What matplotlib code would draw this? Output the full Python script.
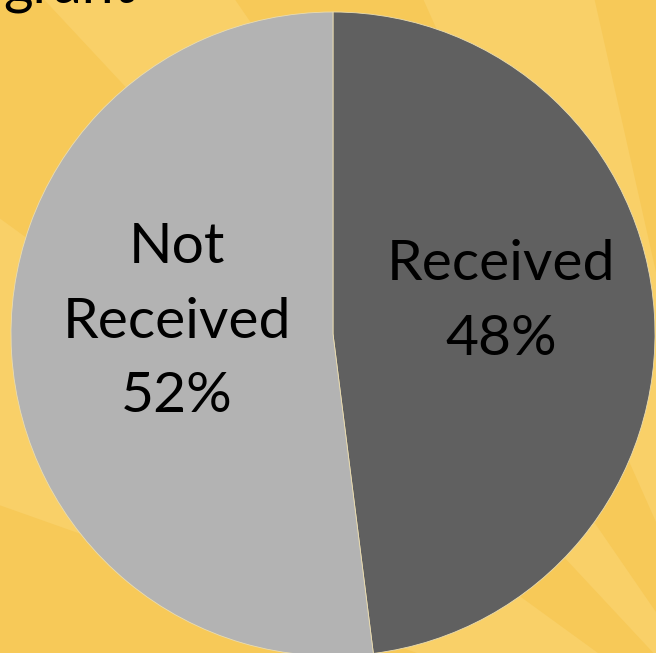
import matplotlib
matplotlib.use('Agg')
import matplotlib.pyplot as plt
from matplotlib.patches import Wedge

# 数据
labels = ['Received', 'Not\nReceived']
values = [48, 52]
colors = ['#606060', '#b3b3b3']

W, H = 656, 653

fig = plt.figure(figsize=(W / 100, H / 100), dpi=100)
ax = fig.add_axes([0, 0, 1, 1])
fig.patch.set_facecolor('#f7c958')
ax.set_facecolor('#f7c958')

# 背景的放射光线 (中心在右下角外面)
ray_center = (770, H - 778)
light_rays = [(144.0, 160.5), (124.5, 133.0), (102.7, 114.0)]
for t1, t2 in light_rays:
    ax.add_patch(Wedge(ray_center, 3000, t1, t2, color='#f9d068', lw=0, zorder=0))

# 饼图
wedges, _ = ax.pie(values, colors=colors, startangle=90, counterclock=False,
                   center=(333, H - 334), radius=322,
                   wedgeprops=dict(edgecolor='#eadcb0', linewidth=0.6))
for w in wedges:
    w.set_zorder(2)

# 标签
pct = [f'{v}%' for v in values]
label_pos = [(501, H - 302), (177, H - 322)]
for lab, p, (x, y) in zip(labels, pct, label_pos):
    ax.text(x, y, lab + '\n' + p, ha='center', va='center', fontsize=41,
            family='Lato', linespacing=1.57, color='black', zorder=3)

# 上面被裁掉的标题
ax.text(3, H - 3, 'grant', ha='left', va='baseline', fontsize=41,
        family='Lato', color='black', zorder=3)

ax.set_xlim(0, W)
ax.set_ylim(0, H)
ax.set_aspect('equal')
ax.axis('off')

fig.savefig('out.png', dpi=100, facecolor=fig.get_facecolor())
